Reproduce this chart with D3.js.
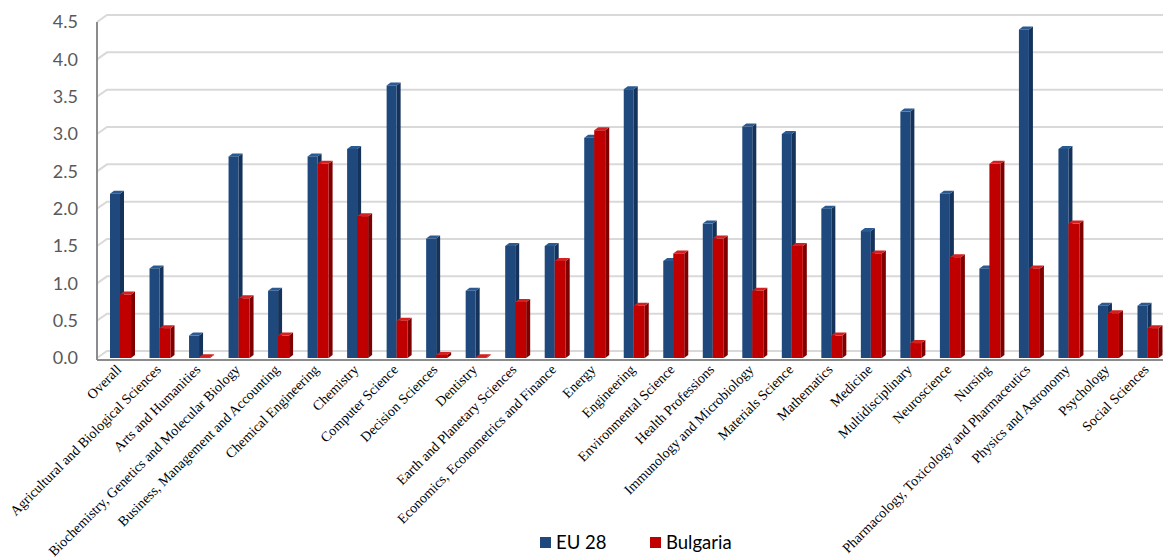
<!DOCTYPE html>
<html>
<head>
<meta charset="utf-8">
<script src="https://cdn.jsdelivr.net/npm/d3@7"></script>
<style>
  html, body { margin: 0; padding: 0; background: #fff; }
  svg { display: block; }
</style>
</head>
<body>
<svg id="chart" width="1163" height="558"></svg>
<script>
const categories = [
  "Overall", "Agricultural and Biological Sciences", "Arts and Humanities",
  "Biochemistry, Genetics and Molecular Biology", "Business, Management and Accounting",
  "Chemical Engineering", "Chemistry", "Computer Science", "Decision Sciences",
  "Dentistry", "Earth and Planetary Sciences", "Economics, Econometrics and Finance",
  "Energy", "Engineering", "Environmental Science", "Health Professions",
  "Immunology and Microbiology", "Materials Science", "Mathematics", "Medicine",
  "Multidisciplinary", "Neuroscience", "Nursing",
  "Pharmacology, Toxicology and Pharmaceutics", "Physics and Astronomy",
  "Psychology", "Social Sciences"
];
const eu28 = [2.2, 1.2, 0.3, 2.7, 0.9, 2.7, 2.8, 3.65, 1.6, 0.9, 1.5, 1.5, 2.95, 3.6,
  1.3, 1.8, 3.1, 3.0, 2.0, 1.7, 3.3, 2.2, 1.2, 4.4, 2.8, 0.7, 0.7];
const bulgaria = [0.85, 0.4, 0.01, 0.8, 0.3, 2.6, 1.9, 0.5, 0.04, 0.01, 0.75, 1.3, 3.05, 0.7,
  1.4, 1.6, 0.9, 1.5, 0.3, 1.4, 0.2, 1.35, 2.6, 1.2, 1.8, 0.6, 0.4];
const yTicks = [0, 0.5, 1, 1.5, 2, 2.5, 3, 3.5, 4, 4.5];
const seriesNames = ["EU 28", "Bulgaria"];

const svg = d3.select("#chart");
const plotLeft = 97, plotRight = 1164, plotTop = 22, plotBottom = 358;
const depthX = 10, depthY = 7;

const x = d3.scaleBand().domain(categories).range([plotLeft, plotRight]).padding(0);
const y = d3.scaleLinear().domain([0, 4.5]).range([plotBottom, plotTop]);

const colors = {
  eu: { front: "#1F497D", side: "#15325A", top: "#2A5A92" },
  bg: { front: "#C00000", side: "#7E0000", top: "#D42020" }
};

// gridlines (back wall)
const grid = svg.append("g");
yTicks.forEach(v => {
  const yy = y(v);
  grid.append("path")
    .attr("d", `M${plotLeft},${yy} L${plotLeft + depthX},${yy - depthY} L${plotRight},${yy - depthY}`)
    .attr("fill", "none")
    .attr("stroke", "#D9D9D9")
    .attr("stroke-width", 2);
});

// y-axis labels
const yAxis = d3.axisLeft(y).tickValues(yTicks).tickFormat(d3.format(".1f")).tickSize(0).tickPadding(19);
const yg = svg.append("g").attr("transform", `translate(${plotLeft},0)`).call(yAxis);
yg.select(".domain").remove();
yg.selectAll("text")
  .attr("fill", "#595959")
  .style("font-family", "Lato, 'Open Sans', sans-serif")
  .style("font-size", "18px");

// bars
const bw = 10, bd = 4, bdy = 3;
const blueOff = 13, redOff = 23;
function drawBar(g, x0, v, c, w) {
  const yt = y(v), yb = plotBottom;
  g.append("path")
    .attr("d", `M${x0 + w},${yt} L${x0 + w + bd},${yt - bdy} L${x0 + w + bd},${yb - bdy} L${x0 + w},${yb} Z`)
    .attr("fill", c.side);
  g.append("path")
    .attr("d", `M${x0},${yt} L${x0 + bd},${yt - bdy} L${x0 + w + bd},${yt - bdy} L${x0 + w},${yt} Z`)
    .attr("fill", c.top);
  g.append("rect")
    .attr("x", x0).attr("y", yt)
    .attr("width", w).attr("height", Math.max(0, yb - yt))
    .attr("fill", c.front);
}
const bars = svg.append("g");
categories.forEach((cat, i) => {
  const bx = x(cat);
  const g = bars.append("g");
  drawBar(g, bx + blueOff, eu28[i], colors.eu, bw);
  drawBar(g, bx + redOff, bulgaria[i], colors.bg, 11);
});

// axes lines
svg.append("line")
  .attr("x1", plotLeft).attr("x2", plotLeft).attr("y1", plotTop).attr("y2", plotBottom + 2)
  .attr("stroke", "#8C8C8C").attr("stroke-width", 2);
svg.append("line")
  .attr("x1", plotLeft).attr("x2", plotRight).attr("y1", plotBottom + 2).attr("y2", plotBottom + 2)
  .attr("stroke", "#8C8C8C").attr("stroke-width", 2);

// x labels
const xl = svg.append("g");
categories.forEach(cat => {
  const cx = x(cat) + x.bandwidth() / 2 + 2;
  xl.append("text")
    .attr("transform", `translate(${cx},${plotBottom + 9}) rotate(-45)`)
    .attr("text-anchor", "end")
    .attr("dy", "0.35em")
    .attr("fill", "#000")
    .style("font-family", "'Liberation Serif', 'DejaVu Serif', serif")
    .style("font-size", "14px")
    .text(cat);
});

// legend
const legend = svg.append("g");
const legItems = [
  { name: seriesNames[0], color: colors.eu.front, x: 540 },
  { name: seriesNames[1], color: colors.bg.front, x: 650 }
];
legItems.forEach(it => {
  legend.append("rect").attr("x", it.x).attr("y", 537).attr("width", 11).attr("height", 11).attr("fill", it.color);
  legend.append("text")
    .attr("x", it.x + 16).attr("y", 549)
    .attr("fill", "#000")
    .style("font-family", "Lato, 'Open Sans', sans-serif")
    .style("font-size", "18.5px")
    .text(it.name);
});
</script>
</body>
</html>
